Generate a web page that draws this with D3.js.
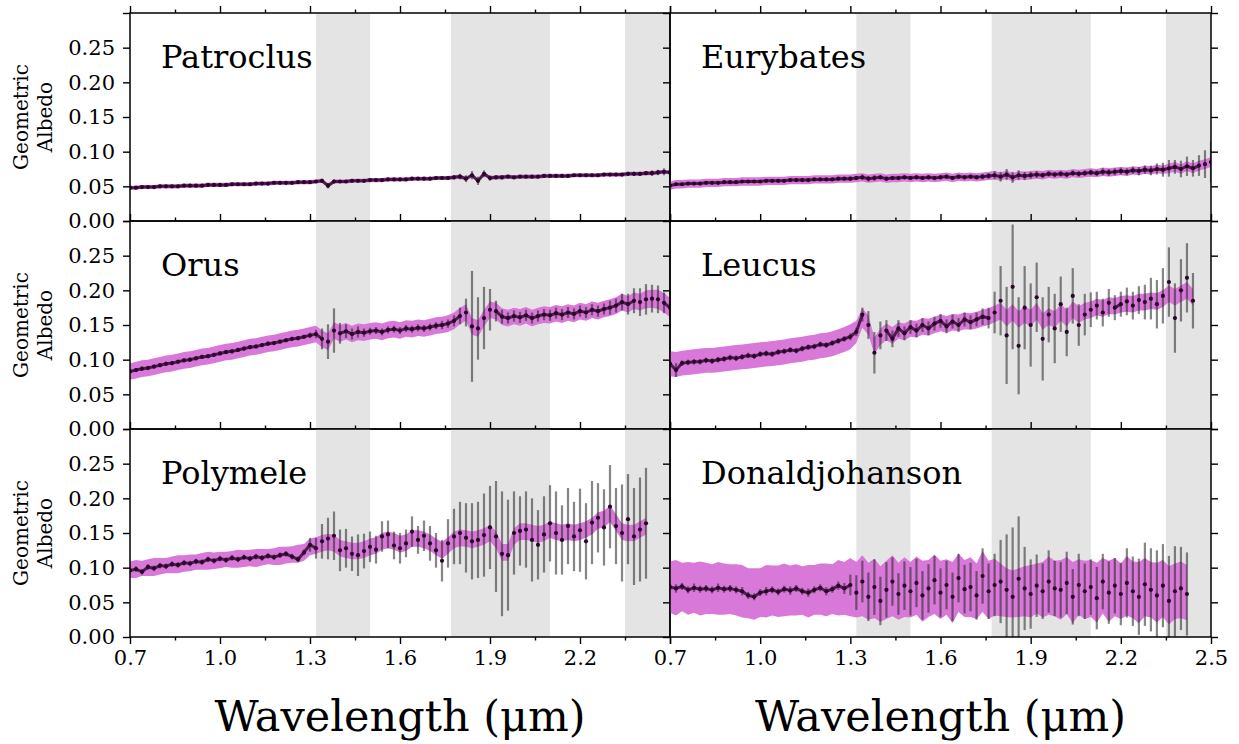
<!DOCTYPE html>
<html>
<head>
<meta charset="utf-8">
<script src="https://cdn.jsdelivr.net/npm/d3@7"></script>
<style>
  body { margin: 0; background: #fff; }
  svg { display: block; font-family: "DejaVu Serif", serif; }
</style>
</head>
<body>
<svg width="1239" height="744"></svg>
<script>
// ---- data ----
const wavelength = [
  0.70,0.72,0.74,0.76,0.78,0.80,0.82,0.84,0.86,0.88,
  0.90,0.92,0.94,0.96,0.98,1.00,1.02,1.04,1.06,1.08,
  1.10,1.12,1.14,1.16,1.18,1.20,1.22,1.24,1.26,1.28,
  1.30,1.32,1.34,1.36,1.38,1.40,1.42,1.44,1.46,1.48,
  1.50,1.52,1.54,1.56,1.58,1.60,1.62,1.64,1.66,1.68,
  1.70,1.72,1.74,1.76,1.78,1.80,1.82,1.84,1.86,1.88,
  1.90,1.92,1.94,1.96,1.98,2.00,2.02,2.04,2.06,2.08,
  2.10,2.12,2.14,2.16,2.18,2.20,2.22,2.24,2.26,2.28,
  2.30,2.32,2.34,2.36,2.38,2.40,2.42,2.44,2.46,2.48,2.50
];

const patroclusAlb = [
  .048,.048,.049,.049,.049,.050,.050,.050,.050,.051,
  .051,.051,.051,.052,.052,.052,.052,.053,.053,.053,
  .053,.054,.054,.054,.055,.055,.055,.055,.056,.056,
  .056,.057,.058,.051,.057,.057,.057,.058,.058,.058,
  .059,.059,.059,.060,.060,.060,.060,.061,.061,.061,
  .061,.062,.062,.062,.063,.064,.061,.066,.058,.068,
  .062,.063,.063,.064,.063,.064,.064,.064,.064,.065,
  .065,.065,.065,.065,.066,.066,.066,.066,.066,.067,
  .067,.067,.067,.068,.068,.068,.069,.069,.070,.071,.070
];
const patroclusErr = [
  .002,.002,.002,.002,.002,.002,.002,.002,.002,.002,
  .002,.002,.002,.002,.002,.002,.002,.002,.002,.002,
  .002,.002,.002,.002,.002,.002,.002,.002,.002,.002,
  .002,.002,.003,.004,.003,.002,.002,.002,.002,.002,
  .002,.002,.002,.002,.002,.002,.002,.002,.002,.002,
  .002,.002,.002,.003,.003,.004,.005,.006,.006,.005,
  .004,.003,.003,.002,.002,.002,.002,.002,.002,.002,
  .002,.002,.002,.002,.002,.002,.002,.002,.002,.002,
  .002,.002,.002,.003,.003,.003,.003,.004,.004,.005,.006
];
const patroclusBand = [
  .003,.003,.003,.003,.003,.003,.003,.003,.003,.003,
  .003,.003,.003,.003,.003,.003,.003,.003,.003,.003,
  .003,.003,.003,.003,.003,.003,.003,.003,.003,.003,
  .003,.003,.003,.003,.003,.003,.003,.003,.003,.003,
  .003,.003,.003,.003,.003,.003,.003,.003,.003,.003,
  .003,.003,.003,.003,.003,.003,.003,.003,.003,.003,
  .003,.003,.003,.003,.003,.003,.003,.003,.003,.003,
  .003,.003,.003,.003,.003,.003,.003,.003,.003,.003,
  .003,.003,.003,.003,.003,.003,.003,.003,.003,.003,.003
];

const eurybatesAlb = [
  .051,.053,.053,.054,.054,.054,.055,.055,.055,.056,
  .056,.056,.057,.057,.057,.057,.058,.058,.058,.058,
  .059,.059,.059,.059,.060,.060,.060,.060,.061,.061,
  .061,.062,.063,.061,.062,.063,.061,.062,.062,.063,
  .062,.063,.062,.063,.062,.063,.064,.062,.064,.063,
  .064,.063,.064,.065,.066,.064,.067,.063,.066,.065,
  .066,.067,.066,.068,.067,.068,.067,.069,.068,.069,
  .070,.069,.071,.070,.071,.072,.071,.073,.072,.074,
  .073,.075,.074,.076,.078,.075,.079,.076,.080,.082,.085
];
const eurybatesErr = [
  .002,.002,.002,.002,.002,.002,.002,.002,.002,.002,
  .002,.002,.002,.002,.002,.002,.002,.002,.002,.002,
  .002,.002,.002,.002,.002,.002,.002,.002,.002,.002,
  .003,.003,.004,.004,.004,.003,.003,.003,.003,.003,
  .003,.003,.003,.003,.003,.003,.003,.003,.003,.003,
  .003,.003,.004,.004,.006,.007,.008,.008,.007,.006,
  .005,.005,.004,.004,.004,.004,.004,.004,.004,.004,
  .004,.004,.005,.005,.005,.005,.005,.005,.006,.006,
  .007,.008,.010,.012,.010,.012,.014,.012,.015,.020,.030
];
const eurybatesBand = [
  .006,.006,.006,.006,.006,.006,.006,.006,.006,.006,
  .006,.006,.006,.006,.006,.006,.006,.006,.006,.006,
  .006,.006,.006,.006,.006,.006,.006,.006,.006,.006,
  .006,.006,.006,.006,.006,.006,.006,.006,.006,.006,
  .006,.006,.006,.006,.006,.006,.006,.006,.006,.006,
  .006,.006,.006,.006,.006,.006,.006,.006,.006,.006,
  .006,.006,.006,.006,.006,.006,.006,.006,.006,.006,
  .006,.006,.006,.006,.006,.006,.006,.006,.006,.006,
  .006,.006,.006,.007,.007,.007,.007,.007,.007,.007,.007
];

const orusAlb = [
  .083,.085,.087,.088,.090,.092,.094,.095,.097,.099,
  .100,.102,.104,.105,.107,.109,.111,.112,.114,.116,
  .118,.119,.121,.123,.124,.126,.128,.130,.131,.133,
  .135,.137,.130,.126,.142,.138,.141,.137,.140,.139,
  .141,.142,.140,.143,.144,.142,.145,.144,.146,.145,
  .147,.149,.150,.152,.156,.163,.168,.148,.145,.160,
  .172,.170,.162,.160,.163,.161,.164,.160,.163,.165,
  .164,.167,.165,.168,.166,.170,.168,.172,.170,.173,
  .175,.178,.183,.180,.185,.183,.187,.188,.187,.182,.175
];
const orusErr = [
  .003,.003,.003,.003,.003,.003,.003,.003,.003,.003,
  .003,.003,.003,.003,.003,.003,.003,.003,.003,.003,
  .003,.003,.003,.003,.003,.003,.003,.003,.003,.003,
  .004,.006,.015,.025,.032,.015,.010,.008,.008,.006,
  .005,.005,.005,.005,.005,.005,.005,.005,.005,.005,
  .005,.005,.006,.006,.008,.012,.020,.080,.045,.045,
  .030,.015,.010,.008,.008,.008,.008,.008,.008,.008,
  .008,.008,.008,.008,.008,.008,.008,.008,.008,.008,
  .010,.010,.012,.015,.018,.020,.022,.020,.020,.015,.010
];
const orusBand = [
  .012,.012,.012,.012,.012,.012,.012,.012,.012,.012,
  .012,.012,.012,.012,.012,.012,.012,.012,.012,.012,
  .012,.012,.012,.012,.012,.012,.012,.012,.012,.012,
  .012,.012,.012,.012,.012,.012,.012,.012,.012,.012,
  .012,.012,.012,.012,.012,.012,.012,.012,.012,.012,
  .012,.012,.012,.012,.012,.012,.012,.012,.012,.012,
  .012,.012,.012,.012,.012,.012,.012,.012,.012,.012,
  .012,.012,.012,.012,.012,.012,.012,.012,.012,.012,
  .012,.012,.012,.012,.012,.012,.013,.013,.014,.014,.014
];

const leucusAlb = [
  .094,.085,.095,.096,.097,.097,.099,.098,.100,.101,
  .103,.102,.104,.106,.105,.108,.109,.108,.111,.112,
  .114,.113,.116,.118,.119,.122,.121,.124,.127,.130,
  .133,.140,.165,.150,.110,.135,.142,.130,.145,.138,
  .147,.142,.150,.145,.152,.156,.148,.155,.150,.158,
  .154,.158,.162,.160,.168,.185,.135,.205,.120,.175,
  .150,.190,.130,.165,.145,.180,.140,.192,.150,.165,
  .172,.178,.168,.182,.175,.180,.184,.178,.186,.183,
  .188,.180,.192,.212,.160,.200,.218,.185,null,null,null
];
const leucusErr = [
  .004,.010,.004,.004,.004,.004,.004,.004,.004,.004,
  .004,.004,.004,.004,.004,.004,.004,.004,.004,.004,
  .004,.004,.004,.004,.004,.004,.004,.004,.004,.004,
  .005,.006,.010,.020,.030,.020,.015,.012,.012,.010,
  .010,.010,.010,.010,.010,.010,.010,.010,.010,.010,
  .010,.010,.012,.015,.030,.050,.070,.090,.070,.060,
  .060,.050,.060,.040,.050,.040,.035,.040,.030,.030,
  .025,.020,.020,.020,.018,.018,.020,.020,.020,.025,
  .030,.035,.040,.050,.050,.045,.050,.040,null,null,null
];
const leucusMid = [
  .094,.093,.095,.096,.097,.098,.099,.099,.100,.101,
  .102,.103,.104,.105,.106,.107,.108,.109,.110,.111,
  .113,.114,.115,.117,.118,.120,.121,.123,.126,.129,
  .133,.140,.160,.150,.120,.133,.140,.135,.142,.140,
  .145,.144,.148,.147,.150,.153,.151,.154,.153,.156,
  .155,.157,.160,.162,.166,.170,.160,.168,.158,.165,
  .160,.170,.155,.162,.158,.168,.160,.172,.165,.170,
  .172,.176,.174,.178,.177,.180,.181,.180,.183,.183,
  .185,.184,.188,.195,.190,.195,.200,.190,null,null,null
];
const leucusBand = [
  .018,.018,.018,.018,.018,.018,.018,.018,.018,.018,
  .018,.018,.018,.018,.018,.018,.018,.018,.018,.018,
  .018,.018,.018,.018,.018,.018,.018,.018,.018,.018,
  .018,.016,.014,.014,.012,.012,.012,.012,.012,.012,
  .012,.012,.012,.012,.012,.012,.012,.012,.012,.012,
  .012,.012,.012,.012,.012,.012,.012,.012,.012,.012,
  .012,.012,.012,.012,.012,.012,.012,.012,.012,.012,
  .012,.012,.012,.012,.012,.012,.012,.012,.012,.012,
  .012,.012,.012,.012,.012,.012,.012,.012,null,null,null
];

const polymeleAlb = [
  .096,.098,.094,.101,.099,.103,.102,.105,.104,.107,
  .106,.109,.108,.112,.110,.113,.111,.114,.112,.115,
  .113,.116,.114,.117,.115,.118,.120,.116,.112,.122,
  .133,.128,.138,.142,.146,.125,.128,.120,.118,.124,
  .130,.126,.145,.148,.132,.128,.135,.152,.140,.146,
  .135,.125,.110,.135,.145,.150,.143,.138,.140,.147,
  .158,.145,.120,.118,.150,.153,.155,.140,.133,.148,
  .164,.150,.140,.160,.145,.154,.138,.165,.172,.158,
  .188,.160,.150,.170,.145,.155,.164,null,null,null,null
];
const polymeleErr = [
  .004,.004,.004,.004,.004,.004,.004,.004,.004,.004,
  .004,.004,.004,.004,.004,.004,.004,.004,.004,.004,
  .004,.004,.004,.004,.004,.004,.004,.004,.004,.004,
  .010,.015,.025,.030,.035,.030,.028,.025,.030,.025,
  .022,.020,.022,.020,.020,.022,.020,.022,.020,.022,
  .025,.025,.030,.035,.040,.045,.050,.055,.055,.060,
  .060,.080,.090,.080,.060,.050,.055,.060,.050,.055,
  .055,.060,.050,.055,.050,.060,.055,.060,.050,.055,
  .060,.055,.070,.065,.070,.075,.080,null,null,null,null
];
const polymeleMid = [
  .097,.098,.099,.100,.101,.102,.103,.104,.105,.106,
  .107,.108,.109,.110,.110,.111,.112,.112,.113,.113,
  .114,.114,.115,.116,.116,.117,.118,.119,.120,.122,
  .130,.132,.135,.137,.135,.128,.126,.124,.124,.126,
  .130,.132,.138,.140,.138,.134,.136,.142,.142,.140,
  .136,.130,.125,.132,.140,.143,.142,.140,.142,.145,
  .150,.140,.122,.122,.145,.152,.152,.150,.148,.150,
  .155,.152,.150,.152,.150,.152,.155,.160,.168,.170,
  .178,.165,.152,.150,.150,.155,.160,null,null,null,null
];
const polymeleBand = [
  .012,.013,.011,.012,.013,.012,.011,.012,.013,.012,
  .012,.011,.012,.013,.012,.012,.011,.012,.013,.012,
  .012,.013,.012,.011,.012,.013,.012,.012,.013,.012,
  .012,.012,.012,.012,.012,.012,.012,.012,.012,.012,
  .012,.012,.012,.012,.012,.012,.012,.012,.012,.012,
  .012,.012,.012,.012,.012,.012,.012,.012,.012,.012,
  .012,.012,.012,.012,.012,.012,.012,.012,.012,.012,
  .012,.012,.012,.012,.012,.012,.012,.012,.012,.012,
  .012,.012,.012,.012,.012,.012,.012,null,null,null,null
];

const donaldAlb = [
  .072,.070,.073,.068,.071,.069,.070,.068,.071,.069,
  .070,.068,.066,.060,.058,.064,.066,.068,.065,.069,
  .067,.070,.066,.064,.068,.071,.066,.069,.074,.070,
  .075,.064,.080,.058,.072,.052,.068,.080,.062,.074,
  .066,.078,.060,.070,.082,.064,.075,.058,.085,.069,
  .072,.060,.088,.066,.075,.080,.068,.058,.084,.070,
  .062,.074,.066,.080,.070,.068,.078,.058,.075,.066,
  .072,.056,.080,.064,.074,.062,.078,.066,.058,.076,
  .068,.060,.074,.052,.066,.070,.062,null,null,null,null
];
const donaldErr = [
  .005,.006,.005,.005,.006,.005,.005,.005,.006,.005,
  .005,.005,.006,.005,.005,.005,.006,.005,.005,.005,
  .006,.005,.005,.006,.005,.005,.006,.005,.006,.008,
  .015,.025,.030,.035,.040,.035,.040,.035,.030,.035,
  .035,.035,.035,.035,.035,.035,.035,.035,.035,.035,
  .035,.035,.040,.040,.045,.060,.080,.100,.090,.060,
  .050,.045,.040,.045,.040,.040,.045,.040,.045,.040,
  .040,.045,.040,.045,.040,.045,.050,.050,.055,.060,
  .060,.065,.060,.065,.065,.060,.060,null,null,null,null
];
const donaldMid = [
  .072,.071,.072,.070,.071,.070,.070,.069,.070,.069,
  .069,.068,.066,.063,.062,.064,.066,.067,.066,.068,
  .067,.068,.067,.066,.068,.069,.068,.069,.071,.070,
  .072,.068,.074,.066,.070,.062,.068,.074,.066,.072,
  .068,.074,.066,.070,.076,.068,.072,.064,.078,.070,
  .072,.066,.080,.068,.072,.068,.064,.062,.064,.066,
  .066,.070,.068,.074,.070,.068,.074,.064,.072,.068,
  .070,.064,.074,.066,.072,.066,.074,.068,.064,.072,
  .068,.064,.070,.060,.066,.068,.064,null,null,null,null
];
const donaldBand = [
  .037,.040,.035,.038,.036,.039,.037,.036,.038,.037,
  .036,.037,.038,.036,.037,.035,.038,.036,.037,.038,
  .036,.037,.035,.038,.036,.037,.038,.036,.040,.038,
  .042,.040,.044,.041,.043,.040,.042,.044,.041,.043,
  .040,.042,.044,.041,.043,.042,.040,.044,.042,.041,
  .043,.040,.044,.042,.041,.038,.035,.034,.035,.036,
  .038,.036,.040,.042,.040,.043,.041,.044,.040,.042,
  .041,.043,.040,.044,.042,.040,.043,.041,.044,.042,
  .040,.043,.041,.042,.040,.041,.040,null,null,null,null
];

const names = ["Patroclus", "Eurybates", "Orus", "Leucus", "Polymele", "Donaldjohanson"];
const albedos = [patroclusAlb, eurybatesAlb, orusAlb, leucusAlb, polymeleAlb, donaldAlb];
const errors = [patroclusErr, eurybatesErr, orusErr, leucusErr, polymeleErr, donaldErr];
// centre of the magenta envelope (the smooth panels follow their points)
const bandMids = [patroclusAlb, eurybatesAlb, orusAlb, leucusMid, polymeleMid, donaldMid];
const bands = [patroclusBand, eurybatesBand, orusBand, leucusBand, polymeleBand, donaldBand];

// telluric regions (grey shading)
const telluricStart = [1.32, 1.77, 2.35];
const telluricEnd = [1.50, 2.10, 2.50];

const xMajor = [0.7, 1.0, 1.3, 1.6, 1.9, 2.2, 2.5];
const xMinor = [0.85, 1.15, 1.45, 1.75, 2.05, 2.35];
const yTicks = [0, 0.05, 0.10, 0.15, 0.20, 0.25, 0.30];

// ---- layout ----
const svg = d3.select("svg");
const cols = [{ x0: 130, x1: 670 }, { x0: 670, x1: 1211 }];
const TOP = 13, PH = 208;

const fmtX = d3.format(".1f");
const fmtY = d3.format(".2f");

function drawPanel(i) {
  const col = i % 2, row = Math.floor(i / 2);
  const x0 = cols[col].x0, x1 = cols[col].x1;
  const y0 = TOP + row * PH, y1 = y0 + PH;

  const x = d3.scaleLinear().domain([0.7, 2.5]).range([x0, x1]);
  const y = d3.scaleLinear().domain([0, 0.30]).range([y1, y0]);

  const clipId = "clip" + i;
  svg.append("clipPath").attr("id", clipId)
    .append("rect").attr("x", x0).attr("y", y0).attr("width", x1 - x0).attr("height", PH);

  const g = svg.append("g").attr("clip-path", `url(#${clipId})`);

  // grey telluric bands
  g.selectAll(".tell")
    .data(telluricStart.map((s, k) => [s, telluricEnd[k]]))
    .join("rect")
    .attr("x", d => x(d[0]))
    .attr("width", d => x(d[1]) - x(d[0]))
    .attr("y", y0).attr("height", PH)
    .attr("fill", "#e4e4e4");

  const pts = wavelength.map((w, k) => ({
    w, v: albedos[i][k], e: errors[i][k], m: bandMids[i][k], b: bands[i][k]
  }));

  // magenta envelope
  const area = d3.area()
    .defined(d => d.m != null && d.b != null)
    .x(d => x(d.w))
    .y0(d => y(d.m - d.b))
    .y1(d => y(d.m + d.b));
  g.append("path").datum(pts)
    .attr("d", area)
    .attr("fill", "#d878d8");

  const valid = pts.filter(d => d.v != null);

  // error bars
  g.selectAll(".eb").data(valid).join("line")
    .attr("x1", d => x(d.w)).attr("x2", d => x(d.w))
    .attr("y1", d => y(d.v - d.e)).attr("y2", d => y(d.v + d.e))
    .attr("stroke", "#222")
    .attr("stroke-opacity", 0.55)
    .attr("stroke-width", 2.2);

  // trace through the well-measured stretches
  const line = d3.line()
    .defined(d => d.v != null && d.e < 0.02)
    .x(d => x(d.w)).y(d => y(d.v));
  g.append("path").datum(pts)
    .attr("d", line)
    .attr("fill", "none")
    .attr("stroke", "#3a0a3a")
    .attr("stroke-opacity", 0.85)
    .attr("stroke-width", 3);

  // points
  g.selectAll(".pt").data(valid).join("circle")
    .attr("cx", d => x(d.w)).attr("cy", d => y(d.v))
    .attr("r", 2.1)
    .attr("fill", "#2a062a");

  // frame
  svg.append("rect")
    .attr("x", x0).attr("y", y0).attr("width", x1 - x0).attr("height", PH)
    .attr("fill", "none").attr("stroke", "#000").attr("stroke-width", 1.5);

  // x ticks on top (pointing out)
  const axTopMaj = svg.append("g").attr("transform", `translate(0,${y0})`)
    .call(d3.axisTop(x).tickValues(xMajor).tickSize(7).tickFormat(""));
  const axTopMin = svg.append("g").attr("transform", `translate(0,${y0})`)
    .call(d3.axisTop(x).tickValues(xMinor).tickSize(3.5).tickFormat(""));
  [axTopMaj, axTopMin].forEach(a => a.select(".domain").remove());

  if (row === 2) {
    const labels = col === 0 ? xMajor.slice(0, -1) : xMajor;
    const axB = svg.append("g").attr("transform", `translate(0,${y1})`)
      .call(d3.axisBottom(x).tickValues(xMajor).tickSize(7).tickPadding(6)
        .tickFormat(d => labels.includes(d) ? fmtX(d) : ""));
    const axBm = svg.append("g").attr("transform", `translate(0,${y1})`)
      .call(d3.axisBottom(x).tickValues(xMinor).tickSize(3.5).tickFormat(""));
    [axB, axBm].forEach(a => a.select(".domain").remove());
    axB.selectAll("text").attr("font-size", 21).attr("font-family", "DejaVu Serif").attr("fill", "#000");
  }

  // y ticks
  const axL = svg.append("g").attr("transform", `translate(${x0},0)`)
    .call(d3.axisLeft(y).tickValues(yTicks).tickSize(7).tickPadding(8)
      .tickFormat(d => (col === 0 && d < 0.29) ? fmtY(d) : ""));
  axL.select(".domain").remove();
  axL.selectAll("text").attr("font-size", 21).attr("font-family", "DejaVu Serif").attr("fill", "#000");
  if (col === 1) {
    const axR = svg.append("g").attr("transform", `translate(${x1},0)`)
      .call(d3.axisRight(y).tickValues(yTicks).tickSize(7).tickFormat(""));
    axR.select(".domain").remove();
  }
  svg.selectAll(".tick line").attr("stroke-width", 1.4);

  // object name
  svg.append("text")
    .attr("x", x0 + 31).attr("y", y0 + 55)
    .attr("font-size", 32)
    .text(names[i]);

  // y label
  if (col === 0) {
    const cy = (y0 + y1) / 2;
    const t = svg.append("text")
      .attr("transform", `translate(28,${cy}) rotate(-90)`)
      .attr("text-anchor", "middle")
      .attr("font-size", 20);
    t.append("tspan").attr("x", 0).attr("y", 0).text("Geometric");
    t.append("tspan").attr("x", 0).attr("y", 24).text("Albedo");
  }
}

names.forEach((n, i) => drawPanel(i));

// x-axis titles
cols.forEach(c => {
  svg.append("text")
    .attr("x", (c.x0 + c.x1) / 2).attr("y", 731)
    .attr("text-anchor", "middle")
    .attr("font-size", 43)
    .text("Wavelength (μm)");
});
</script>
</body>
</html>
